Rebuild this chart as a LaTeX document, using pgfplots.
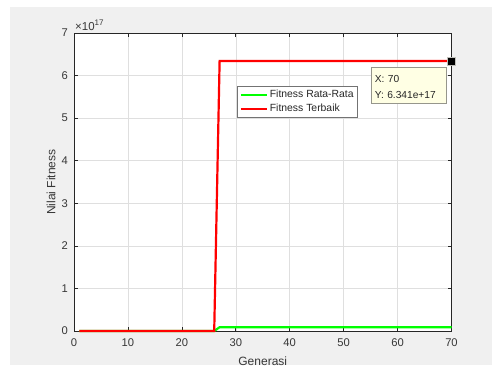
\documentclass[border=0pt]{standalone}
\usepackage{fontspec}
\setmainfont{Liberation Sans}
\usepackage{pgfplots}
\pgfplotsset{compat=1.18}
\definecolor{figbg}{RGB}{240,240,240}
\definecolor{axc}{RGB}{38,38,38}
\definecolor{txc}{RGB}{55,55,55}
\definecolor{gridc}{RGB}{223,223,223}
\definecolor{tipbg}{RGB}{255,255,228}
\definecolor{tipbd}{RGB}{150,150,140}
\definecolor{mgreen}{RGB}{0,255,0}
\definecolor{mred}{RGB}{255,0,0}
\begin{document}
\begin{tikzpicture}
\path[use as bounding box] (0,0) rectangle (492pt,-365pt);
\fill[white] (0,0) rectangle (492pt,-365pt);
\fill[figbg] (10pt,-7pt) rectangle (492pt,-365pt);
\begin{axis}[
  at={(74pt,-331pt)}, anchor=south west,
  scale only axis, width=377.5pt, height=298pt,
  xmin=0, xmax=70, ymin=0, ymax=7e17,
  xtick={0,10,20,30,40,50,60,70},
  ytick={0,1e17,2e17,3e17,4e17,5e17,6e17,7e17},
  yticklabels={0,1,2,3,4,5,6,7},
  scaled y ticks=false,
  axis background/.style={fill=white},
  axis line style={axc, line width=0.6pt},
  tick style={axc, line width=0.6pt},
  major tick length=4pt,
  tick align=inside,
  grid=major,
  major grid style={gridc, line width=0.5pt},
  /pgf/number format/assume math mode=true,
  ticklabel style={font=\fontsize{11.2}{13}\selectfont, text=txc, inner sep=0pt},
  xticklabel style={anchor=north, yshift=-7.5pt},
  yticklabel style={anchor=east, xshift=-6pt},
  xlabel={Generasi}, ylabel={Nilai Fitness},
  label style={font=\fontsize{12}{14}\selectfont, text=txc, inner sep=0pt},
  xlabel style={at={(axis description cs:0.5,0)}, anchor=north, yshift=-25.5pt},
  ylabel style={at={(axis description cs:-0.061,0.5)}, anchor=center},
  clip=false,
  legend cell align=left,
  legend style={at={(0.433,0.822)}, anchor=north west, draw=black!55, fill=white,
    font=\fontsize{10.4}{12}\selectfont, text=axc, inner xsep=2pt, inner ysep=2pt,
    row sep=1pt, nodes={inner sep=2pt}},
  legend image code/.code={\draw[#1] (0pt,0pt) -- (26pt,0pt);},
]
\addplot[mgreen, line width=2.2pt] coordinates {
  (1,0) (26,0) (27,0.09e17) (70,0.09e17)
};
\addlegendentry{Fitness Rata-Rata}
\addplot[mred, line width=2.2pt] coordinates {
  (1,0) (26,0) (27,6.341e17) (70,6.341e17)
};
\addlegendentry{Fitness Terbaik}
\addplot[only marks, mark=square*, mark size=4pt, forget plot,
  mark options={fill=black, draw=tipbd!60!white, line width=0.6pt}]
  coordinates {(70,6.341e17)};
\node[anchor=north west, draw=tipbd, fill=tipbg, line width=0.6pt,
  inner xsep=4pt, inner ysep=0pt, text width=67pt, minimum height=36pt,
  align=left, font=\fontsize{10.2}{16}\selectfont, text=black!85,
  xshift=-81pt, yshift=-6pt] at (axis cs:70,6.341e17) {\rule{0pt}{10pt}X: 70\\Y: 6.341e+17};
\node[anchor=base west, inner sep=0pt, font=\fontsize{11.5}{13}\selectfont, text=txc,
  xshift=1pt, yshift=3pt] at (axis description cs:0,1) {×10\textsuperscript{17}};
\end{axis}
\end{tikzpicture}
\end{document}
